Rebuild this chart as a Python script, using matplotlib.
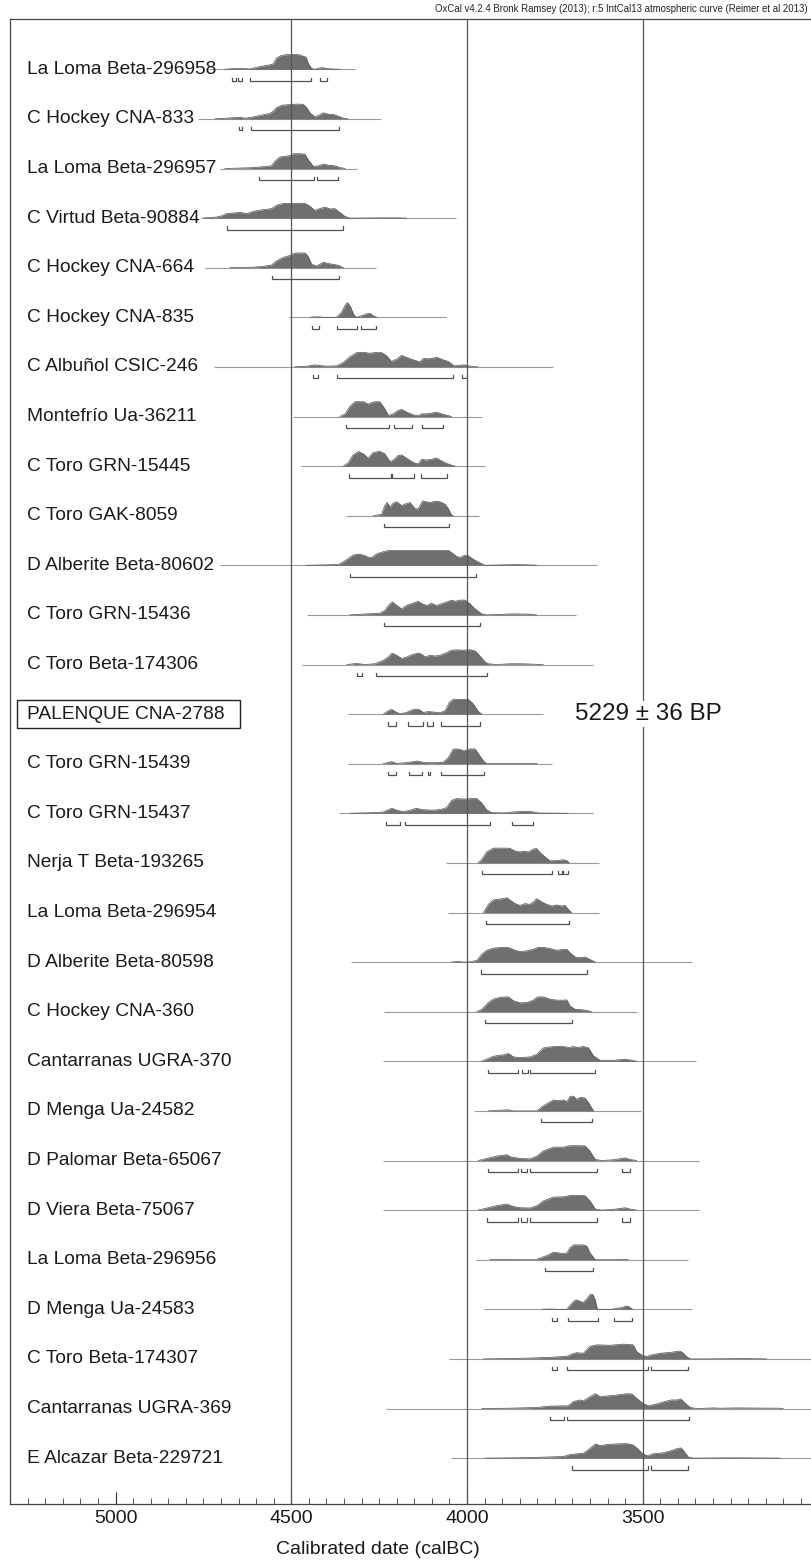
import matplotlib
matplotlib.use('Agg')
import matplotlib.pyplot as plt
from matplotlib.patches import Rectangle
from matplotlib.ticker import FixedLocator, MultipleLocator

plt.rcParams['font.family'] = ['Liberation Sans', 'DejaVu Sans']

# ---------------- data ----------------
labels = [
    "La Loma Beta-296958", "C Hockey CNA-833", "La Loma Beta-296957",
    "C Virtud Beta-90884", "C Hockey CNA-664", "C Hockey CNA-835",
    "C Albuñol CSIC-246", "Montefrío Ua-36211", "C Toro GRN-15445",
    "C Toro GAK-8059", "D Alberite Beta-80602", "C Toro GRN-15436",
    "C Toro Beta-174306", "PALENQUE CNA-2788", "C Toro GRN-15439",
    "C Toro GRN-15437", "Nerja T Beta-193265", "La Loma Beta-296954",
    "D Alberite Beta-80598", "C Hockey CNA-360", "Cantarranas UGRA-370",
    "D Menga Ua-24582", "D Palomar Beta-65067", "D Viera Beta-75067",
    "La Loma Beta-296956", "D Menga Ua-24583", "C Toro Beta-174307",
    "Cantarranas UGRA-369", "E Alcazar Beta-229721",
]
highlight = "PALENQUE CNA-2788"
highlight_note = "5229 \u00b1 36 BP"

# range of the thin baseline of each row (calBC, start, end)
line_start = [4735, 4765, 4703, 4750, 4745, 4506, 4720, 4496, 4471, 4345,
              4703, 4456, 4470, 4340, 4340, 4363, 4060, 4055, 4330, 4235,
              4240, 3980, 4240, 4240, 3975, 3953, 4050, 4231, 4046]
line_end = [4319, 4245, 4314, 4030, 4259, 4060, 3754, 3956, 3949, 3965,
            3630, 3690, 3641, 3785, 3759, 3640, 3624, 3624, 3360, 3515,
            3349, 3506, 3340, 3340, 3372, 3360, 2990, 2990, 2990]

yrs_01 = [4689, 4665, 4637, 4618, 4589, 4561, 4551, 4542, 4528, 4513, 4499, 4485, 4475, 4466, 4458, 4452, 4442, 4433, 4419, 4409, 4400, 4385, 4362]
p_01 = [0, .05, .05, .02, .18, .30, .37, .76, .94, .99, 1, 1, .97, .87, .83, .41, .05, 0, .09, .11, .05, .02, 0]
rng_01 = [(4668, 4658), (4653, 4639), (4618, 4445), (4419, 4399)]

yrs_02 = [4717, 4684, 4646, 4632, 4618, 4589, 4561, 4551, 4542, 4528, 4504, 4485, 4466, 4456, 4447, 4433, 4423, 4409, 4395, 4381, 4366, 4352, 4338]
p_02 = [0, .05, .11, .05, .09, .23, .37, .53, .76, .92, .97, 1, .99, .76, .41, .14, .23, .41, .32, .30, .18, .05, 0]
rng_02 = [(4649, 4640), (4616, 4363)]

yrs_03 = [4689, 4618, 4585, 4556, 4547, 4532, 4504, 4494, 4475, 4461, 4452, 4437, 4423, 4409, 4395, 4376, 4362, 4347]
p_03 = [0, .05, .11, .18, .48, .78, .87, 1, 1, .97, .6, .14, .18, .30, .23, .18, .07, 0]
rng_03 = [(4591, 4436), (4426, 4368)]

yrs_04 = [4755, 4722, 4703, 4684, 4665, 4646, 4627, 4608, 4580, 4556, 4542, 4523, 4499, 4475, 4461, 4447, 4433, 4419, 4404, 4390, 4376, 4362, 4347, 4333, 4229, 4200, 4172]
p_04 = [0, .05, .11, .30, .34, .39, .30, .46, .57, .64, .87, .99, 1, 1, 1, .8, .53, .64, .74, .62, .64, .39, .11, 0, .02, .02, 0]
rng_04 = [(4684, 4352)]

yrs_05 = [4675, 4618, 4580, 4556, 4542, 4523, 4504, 4490, 4461, 4452, 4442, 4428, 4409, 4395, 4381, 4366, 4352]
p_05 = [0, .02, .09, .18, .46, .69, .83, .99, 1, .76, .23, .11, .37, .28, .23, .16, 0]
rng_05 = [(4554, 4363)]

yrs_06 = [4447, 4433, 4418, 4411, 4371, 4357, 4347, 4340, 4331, 4322, 4314, 4300, 4286, 4276, 4267, 4257]
p_06 = [0, .03, .03, 0, 0, .34, .80, 1, .69, .16, 0, .11, .23, .27, .11, 0]
rng_06 = [(4440, 4420), (4371, 4312), (4301, 4260)]

yrs_07 = [4490, 4456, 4433, 4418, 4400, 4371, 4352, 4333, 4314, 4295, 4276, 4262, 4243, 4229, 4215, 4200, 4186, 4172, 4153, 4134, 4124, 4110, 4096, 4085, 4068, 4053, 4037, 4020, 4006, 3992, 3968]
p_07 = [0, .05, .14, .09, .05, .07, .30, .69, .97, .99, .92, .97, .97, .76, .37, .53, .78, .64, .48, .34, .57, .55, .60, .64, .48, .37, .07, .11, .14, .05, 0]
rng_07 = [(4439, 4423), (4371, 4039), (4013, 4001)]

yrs_08 = [4362, 4347, 4333, 4319, 4295, 4281, 4271, 4262, 4248, 4234, 4224, 4210, 4196, 4186, 4172, 4153, 4139, 4129, 4115, 4101, 4087, 4072, 4058, 4044]
p_08 = [0, .18, .69, 1, 1, .83, .94, 1, .99, .53, .07, .18, .41, .48, .30, .11, .05, .18, .18, .23, .30, .18, .09, 0]
rng_08 = [(4343, 4222), (4207, 4156), (4129, 4068)]

yrs_09 = [4352, 4338, 4324, 4309, 4295, 4281, 4267, 4248, 4234, 4219, 4210, 4196, 4186, 4172, 4153, 4139, 4129, 4115, 4101, 4087, 4072, 4058, 4044, 4034]
p_09 = [0, .23, .76, .99, .83, .53, .92, 1, .83, .30, .41, .71, .76, .53, .25, .14, .46, .41, .46, .55, .34, .18, .07, 0]
rng_09 = [(4335, 4217), (4212, 4150), (4132, 4056)]

yrs_10 = [4267, 4243, 4234, 4227, 4219, 4210, 4200, 4186, 4177, 4162, 4148, 4139, 4126, 4115, 4105, 4091, 4077, 4063, 4053, 4044, 4039]
p_10 = [0, .09, .68, .89, .57, .85, .94, .68, .79, .89, .47, .47, 1, .94, .89, .98, .94, .79, .47, .04, 0]
rng_10 = [(4235, 4050)]

yrs_11 = [4456, 4366, 4352, 4338, 4324, 4309, 4295, 4281, 4271, 4257, 4238, 4224, 4191, 4143, 4096, 4053, 4044, 4030, 4020, 4006, 3996, 3982, 3963, 3949, 3859, 3811, 3802]
p_11 = [0, .05, .23, .46, .69, .76, .69, .55, .53, .78, .92, 1, 1, 1, 1, 1, .87, .60, .53, .69, .64, .41, .16, 0, .05, .02, 0]
rng_11 = [(4333, 3975)]

yrs_12 = [4333, 4286, 4248, 4234, 4219, 4212, 4200, 4186, 4172, 4158, 4139, 4129, 4115, 4101, 4087, 4072, 4058, 4044, 4034, 4020, 4006, 3992, 3977, 3958, 3944, 3868, 3821, 3802]
p_12 = [0, .07, .11, .30, .76, .87, .64, .41, .64, .76, .92, .76, .64, .78, .64, .76, .87, 1, .92, 1, 1, .76, .41, .07, 0, .07, .05, 0]
rng_12 = [(4236, 3963)]

yrs_13 = [4342, 4314, 4290, 4262, 4238, 4224, 4214, 4205, 4186, 4172, 4153, 4138, 4129, 4119, 4105, 4091, 4077, 4058, 4044, 4029, 4010, 3991, 3977, 3963, 3949, 3939, 3916, 3878, 3840, 3811, 3783]
p_13 = [0, .07, 0, .05, .28, .51, .76, .69, .41, .51, .69, .78, .69, .51, .62, .57, .62, .80, .97, .99, .97, 1, .92, .57, .18, .05, 0, .05, .05, .02, 0]
rng_13 = [(4312, 4299), (4260, 3942)]

yrs_14 = [4238, 4224, 4214, 4205, 4191, 4172, 4157, 4143, 4134, 4124, 4110, 4096, 4077, 4062, 4050, 4039, 4025, 4010, 3996, 3982, 3968, 3958]
p_14 = [0, .23, .32, .18, .02, .11, .28, .34, .28, .11, .18, .14, .09, .23, .80, 1, .99, 1, 1, .69, .18, 0]
rng_14 = [(4226, 4202), (4167, 4126), (4115, 4098), (4075, 3963)]

yrs_15 = [4238, 4224, 4214, 4200, 4172, 4143, 4129, 4115, 4086, 4067, 4053, 4039, 4029, 4020, 4010, 4001, 3991, 3977, 3968, 3953, 3944, 3880, 3840, 3800]
p_15 = [0, .09, .14, .02, .07, .18, .11, .07, .07, .11, .41, .99, 1, .97, .87, .92, 1, 1, .69, .18, 0, .02, .02, 0]
rng_15 = [(4226, 4203), (4164, 4127), (4112, 4105), (4073, 3951)]

yrs_16 = [4333, 4257, 4238, 4227, 4214, 4200, 4181, 4162, 4143, 4129, 4115, 4100, 4086, 4072, 4058, 4044, 4029, 4015, 4001, 3987, 3972, 3958, 3944, 3930, 3896, 3868, 3840, 3816, 3797, 3712]
p_16 = [0, .05, .09, .21, .34, .21, .11, .21, .34, .25, .23, .21, .23, .28, .39, .87, 1, .97, .97, 1, .99, .69, .23, .05, .02, .09, .14, .11, .02, 0]
rng_16 = [(4230, 4192), (4176, 3934), (3871, 3811)]

yrs_17 = [3968, 3958, 3944, 3925, 3897, 3878, 3863, 3849, 3840, 3825, 3811, 3802, 3792, 3778, 3764, 3745, 3726, 3716, 3709]
p_17 = [0, .23, .74, 1, 1, .99, .80, .74, .80, .74, .94, .97, .69, .41, .14, .16, .21, .16, 0]
rng_17 = [(3958, 3759), (3740, 3729), (3726, 3713)]

yrs_18 = [3953, 3939, 3925, 3911, 3897, 3887, 3878, 3863, 3849, 3835, 3821, 3811, 3802, 3787, 3773, 3759, 3745, 3731, 3721, 3707, 3702]
p_18 = [0, .55, .85, .90, .94, 1, .85, .60, .48, .60, .55, .71, .94, .71, .55, .44, .51, .44, .48, .09, 0]
rng_18 = [(3947, 3711)]

yrs_19 = [4043, 4029, 4010, 3991, 3972, 3958, 3944, 3925, 3906, 3887, 3877, 3863, 3849, 3830, 3811, 3797, 3782, 3764, 3745, 3730, 3716, 3707, 3692, 3678, 3664, 3650, 3635]
p_19 = [0, .05, 0, .02, .11, .53, .80, .94, .99, 1, .94, .80, .71, .76, .87, 1, .99, .92, .80, .85, .87, .64, .34, .30, .34, .18, 0]
rng_19 = [(3961, 3659)]

yrs_20 = [3972, 3958, 3939, 3925, 3906, 3892, 3882, 3868, 3849, 3830, 3811, 3800, 3783, 3764, 3745, 3726, 3716, 3707, 3692, 3678, 3659, 3645]
p_20 = [0, .16, .62, .85, .97, 1, 1, .74, .60, .62, .78, 1, 1, .85, .78, .78, .80, .39, .16, .14, .09, 0]
rng_20 = [(3950, 3702)]

yrs_21 = [3958, 3925, 3896, 3882, 3868, 3849, 3820, 3801, 3783, 3754, 3726, 3711, 3697, 3683, 3669, 3654, 3640, 3621, 3583, 3550, 3536, 3517]
p_21 = [0, .34, .44, .53, .30, .25, .30, .48, .90, 1, 1, .94, .99, .94, 1, .90, .37, .07, .07, .14, .09, 0]
rng_21 = [(3941, 3854), (3844, 3827), (3820, 3635)]

yrs_22 = [3939, 3906, 3882, 3868, 3801, 3787, 3768, 3754, 3740, 3726, 3716, 3707, 3697, 3688, 3678, 3664, 3654, 3640]
p_22 = [0, .05, .07, 0, 0, .28, .55, .74, .69, .74, .62, .97, 1, .78, .92, .87, .55, 0]
rng_22 = [(3790, 3645)]

yrs_23 = [3968, 3944, 3915, 3887, 3877, 3849, 3820, 3801, 3783, 3754, 3726, 3711, 3702, 3683, 3664, 3650, 3635, 3617, 3583, 3550, 3536, 3517]
p_23 = [0, .14, .30, .39, .25, .14, .11, .30, .64, .90, .90, .99, 1, 1, .99, .64, .07, 0, .05, .18, .07, 0]
rng_23 = [(3941, 3854), (3845, 3830), (3822, 3631), (3558, 3536)]

yrs_24 = [3968, 3944, 3915, 3887, 3870, 3849, 3820, 3801, 3783, 3754, 3726, 3711, 3702, 3683, 3664, 3650, 3635, 3617, 3583, 3550, 3536, 3517]
p_24 = [0, .14, .30, .41, .25, .16, .14, .30, .62, .88, .90, .97, 1, 1, .97, .62, .07, 0, .05, .16, .07, 0]
rng_24 = [(3942, 3854), (3845, 3830), (3822, 3631), (3558, 3536)]

yrs_25 = [3934, 3906, 3873, 3863, 3806, 3792, 3773, 3754, 3740, 3726, 3716, 3707, 3697, 3683, 3669, 3659, 3650, 3635, 3575, 3560, 3541]
p_25 = [0, .02, .02, 0, 0, .11, .28, .51, .46, .41, .46, .80, 1, 1, 1, .92, .46, 0, 0, .02, 0]
rng_25 = [(3778, 3640)]

yrs_26 = [3787, 3764, 3745, 3716, 3707, 3697, 3688, 3678, 3669, 3659, 3650, 3642, 3635, 3629, 3588, 3574, 3560, 3547, 3538, 3529]
p_26 = [0, .02, 0, 0, .25, .53, .64, .53, .46, .71, .99, 1, .64, 0, 0, .07, .11, .23, .16, 0]
rng_26 = [(3759, 3743), (3713, 3626), (3583, 3531)]

yrs_27 = [3953, 3887, 3802, 3764, 3726, 3712, 3702, 3688, 3669, 3660, 3650, 3631, 3593, 3555, 3527, 3517, 3503, 3489, 3475, 3451, 3422, 3394, 3384, 3375, 3365, 3337, 3204, 3147]
p_27 = [0, .02, .07, .11, .16, .2, .33, .42, .38, .6, .85, .95, .92, 1, .95, .49, .27, .16, .27, .38, .44, .53, .38, .16, 0, 0, .02, 0]
rng_27 = [(3759, 3743), (3715, 3484), (3475, 3370)]

yrs_28 = [3958, 3878, 3802, 3764, 3726, 3712, 3697, 3678, 3669, 3650, 3634, 3622, 3603, 3574, 3546, 3531, 3517, 3500, 3484, 3460, 3437, 3418, 3403, 3391, 3384, 3365, 3346, 3299, 3280, 3233, 3109, 3100]
p_28 = [0, .02, .07, .16, .18, .18, .47, .58, .51, .80, 1, .80, .84, .91, 1, .98, .69, .36, .18, .31, .47, .58, .58, .64, .47, .07, 0, .04, .02, .04, .02, 0]
rng_28 = [(3764, 3723), (3715, 3368)]

yrs_29 = [3949, 3859, 3773, 3726, 3707, 3688, 3669, 3655, 3634, 3622, 3603, 3574, 3546, 3527, 3512, 3500, 3486, 3470, 3441, 3418, 3403, 3391, 3384, 3370, 3356, 3242, 3109]
p_29 = [0, .02, .07, .11, .24, .29, .33, .56, .96, .84, .91, .96, .98, .89, .58, .29, .16, .29, .36, .51, .64, .69, .51, .07, 0, .02, 0]
rng_29 = [(3702, 3484), (3475, 3370)]

dens_years = [yrs_01, yrs_02, yrs_03, yrs_04, yrs_05, yrs_06, yrs_07, yrs_08, yrs_09, yrs_10,
              yrs_11, yrs_12, yrs_13, yrs_14, yrs_15, yrs_16, yrs_17, yrs_18, yrs_19, yrs_20,
              yrs_21, yrs_22, yrs_23, yrs_24, yrs_25, yrs_26, yrs_27, yrs_28, yrs_29]
dens_prob = [p_01, p_02, p_03, p_04, p_05, p_06, p_07, p_08, p_09, p_10,
             p_11, p_12, p_13, p_14, p_15, p_16, p_17, p_18, p_19, p_20,
             p_21, p_22, p_23, p_24, p_25, p_26, p_27, p_28, p_29]
ranges = [rng_01, rng_02, rng_03, rng_04, rng_05, rng_06, rng_07, rng_08, rng_09, rng_10,
          rng_11, rng_12, rng_13, rng_14, rng_15, rng_16, rng_17, rng_18, rng_19, rng_20,
          rng_21, rng_22, rng_23, rng_24, rng_25, rng_26, rng_27, rng_28, rng_29]

major_ticks = [5000, 4500, 4000, 3500]
grid_years = [4500, 4000, 3500]
title = "OxCal v4.2.4 Bronk Ramsey (2013); r:5 IntCal13 atmospheric curve (Reimer et al 2013)"
xlabel = "Calibrated date (calBC)"

# ---------------- layout ----------------
W, H = 811, 1567
fig = plt.figure(figsize=(W / 100, H / 100), dpi=100)
ax_l, ax_r, ax_t, ax_b = 10, 811, 19, 1504
ax = fig.add_axes([ax_l / W, 1 - ax_b / H, (ax_r - ax_l) / W, (ax_b - ax_t) / H])

row0_px, row_px = 69.3, 49.6
ax.set_ylim((ax_b - row0_px) / row_px, -(row0_px - ax_t) / row_px)
ax.set_xlim(5300.5, 3021)

peak_h = 14.8 / row_px
br_off = 11.4 / row_px
br_tick = 3.2 / row_px

fill_col = '#6f6f6f'
edge_col = '#505050'
base_col = '#9a9a9a'
br_col = '#505050'

for i in range(len(labels)):
    ax.plot([line_start[i], line_end[i]], [i, i], color=base_col, lw=0.8, zorder=1,
            solid_capstyle='butt')
    ys = [i - peak_h * p for p in dens_prob[i]]
    ax.fill_between(dens_years[i], i, ys, color=fill_col, lw=0, zorder=2)
    ax.plot(dens_years[i], ys, color=edge_col, lw=0.5, zorder=2)
    yb = i + br_off
    for (a, b) in ranges[i]:
        ax.plot([a, a, b, b], [yb - br_tick, yb, yb, yb - br_tick], color=br_col,
                lw=0.9, zorder=2, solid_joinstyle='miter')

# labels placed in axes-x / data-y coordinates
for i, lab in enumerate(labels):
    ax.text((27 - ax_l) / (ax_r - ax_l), i, lab, transform=ax.get_yaxis_transform(),
            fontsize=13.8, va='center', ha='left', color='#1a1a1a', zorder=5)

for g in grid_years:
    ax.axvline(g, color='#555555', lw=0.9, zorder=3)

# highlighted sample box and note
hi = labels.index(highlight)
fig.patches.append(Rectangle((17 / W, 1 - 728 / H), 223 / W, 28 / H, transform=fig.transFigure,
                             fill=False, edgecolor='#222222', lw=1.0))
ax.text(3693, hi, highlight_note, fontsize=17.5, va='center', ha='left', color='#1a1a1a',
        zorder=6, bbox=dict(facecolor='white', edgecolor='none', pad=1.5))

# axes styling
ax.xaxis.set_major_locator(FixedLocator(major_ticks))
ax.xaxis.set_minor_locator(MultipleLocator(50))
ax.tick_params(axis='x', which='major', direction='in', length=9, width=0.8,
               labelsize=14, pad=4, colors='#333333', labelcolor='#1a1a1a')
ax.tick_params(axis='x', which='minor', direction='in', length=4, width=0.7, colors='#555555')
ax.tick_params(axis='y', left=False, labelleft=False)
ax.spines['right'].set_visible(False)
for s in ['left', 'top', 'bottom']:
    ax.spines[s].set_color('#444444')
    ax.spines[s].set_linewidth(0.9)

fig.text(808 / W, 1 - 9 / H, title, ha='right', va='center', fontsize=6.9, color='#222222')
fig.text(378 / W, 1 - 1549 / H, xlabel, ha='center', va='center', fontsize=14, color='#1a1a1a')

fig.savefig('out.png', dpi=100)
